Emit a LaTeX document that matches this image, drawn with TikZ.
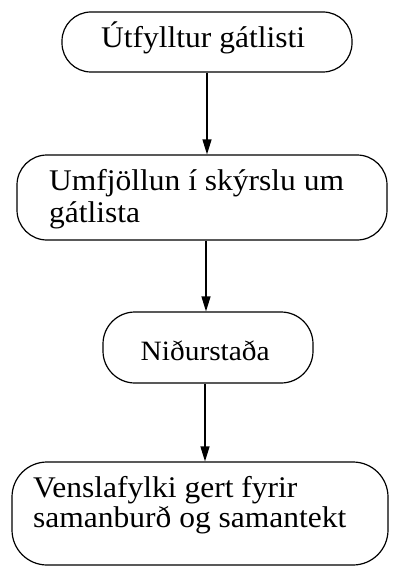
\documentclass[tikz,border=0pt]{standalone}
\usepackage{fontspec}
\setmainfont{Liberation Serif}[FakeStretch=1.05]
\usetikzlibrary{arrows.meta}
\begin{document}
\begin{tikzpicture}[x=1pt,y=1pt,
  box/.style={draw, line width=1.2pt, inner sep=0pt},
  lbl/.style={anchor=base west, inner sep=0pt, align=left,
    font=\fontsize{30}{32}\selectfont},
  flow/.style={draw, line width=1.2pt, -{Triangle[length=15pt,width=9pt]}}]
\useasboundingbox (0,0) rectangle (392,-567);
\node[box, rounded corners=29pt, minimum width=290pt, minimum height=60pt] (b1) at (207,-42) {};
\node[box, rounded corners=30pt, minimum width=370pt, minimum height=85pt] (b2) at (202,-197.5) {};
\node[box, rounded corners=32pt, minimum width=210pt, minimum height=71pt] (b3) at (208,-347.5) {};
\node[box, rounded corners=35pt, minimum width=376pt, minimum height=103pt] (b4) at (200,-513.5) {};
\node[lbl] (t1) at (101,-48) {Útfylltur gátlisti};
\node[lbl, anchor=north west] (t2) at (49,-169.5) {Umfjöllun í skýrslu um\\gátlista};
\node[lbl, font=\fontsize{28}{30}\selectfont] (t3) at (140.5,-360) {Niðurstaða};
\node[lbl, anchor=north west, font=\fontsize{30}{30}\selectfont] (t4) at (33,-476.5) {Venslafylki gert fyrir\\samanburð og samantekt};
\draw[flow] (b1.south -| 207,0) -- (b2.north -| 207,0);
\draw[flow] (b2.south -| 206,0) -- (b3.north -| 206,0);
\draw[flow] (b3.south -| 205,0) -- (b4.north -| 205,0);
\end{tikzpicture}
\end{document}
